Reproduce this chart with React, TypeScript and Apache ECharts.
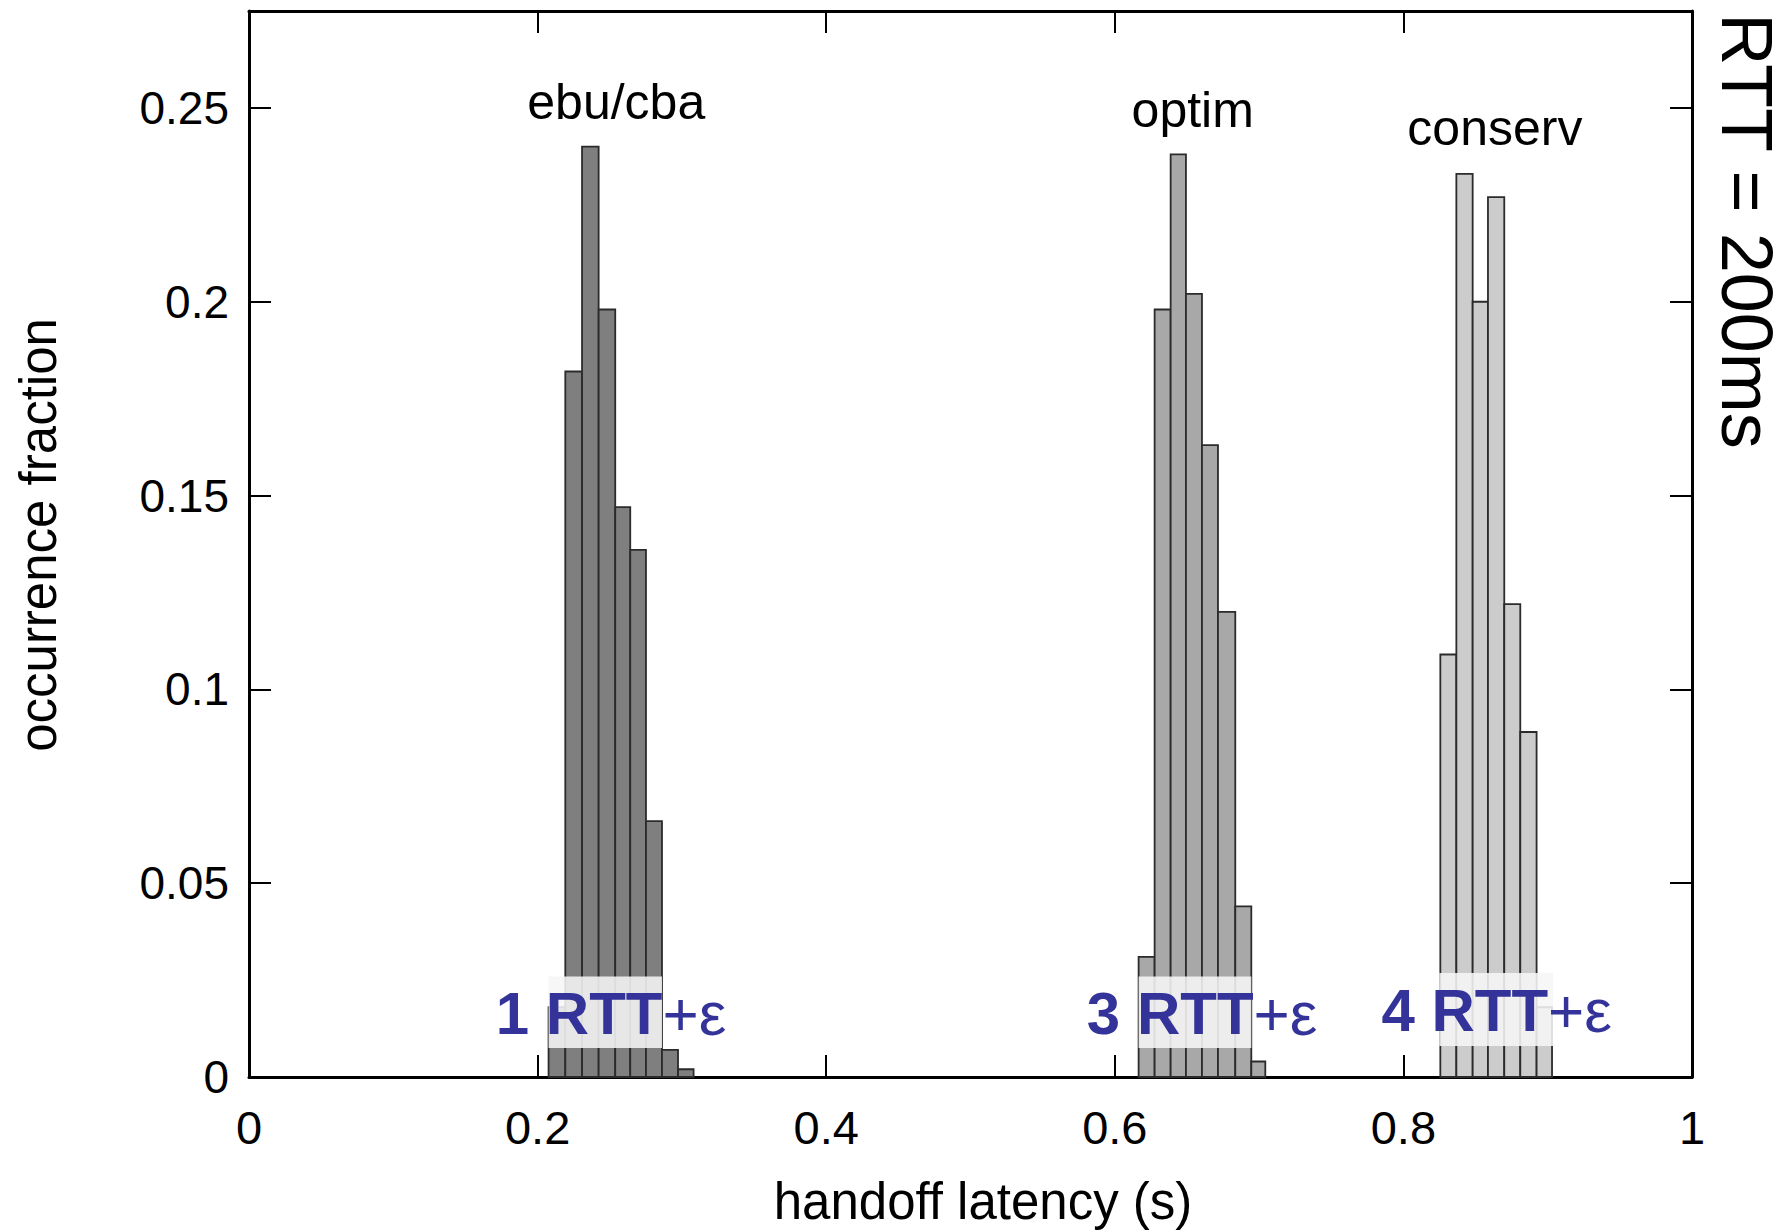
import React, { useEffect, useRef } from 'react';
import * as echarts from 'echarts';

const W = 1789;
const H = 1232;
const FONT = '"Liberation Sans", Arial, Helvetica, sans-serif';

// histogram bin edges (s) and occurrence fractions
const ebuEdges = [0.2076, 0.2192, 0.2308, 0.2423, 0.2538, 0.2642, 0.2751, 0.2862, 0.2973, 0.3081];
const ebuFrac = [0.018, 0.182, 0.240, 0.198, 0.147, 0.136, 0.066, 0.007, 0.002];

const optimEdges = [0.6165, 0.6276, 0.6387, 0.6493, 0.6604, 0.6715, 0.6835, 0.6946, 0.7043];
const optimFrac = [0.031, 0.198, 0.238, 0.202, 0.163, 0.120, 0.044, 0.004];

const conservEdges = [0.8256, 0.8367, 0.8480, 0.8586, 0.8699, 0.8810, 0.8923, 0.9030];
const conservFrac = [0.109, 0.233, 0.200, 0.227, 0.122, 0.089, 0.018];

// group name labels: [x, y, text]
const groupLabels: [number, number, string][] = [
  [0.2545, 0.2516, 'ebu/cba'],
  [0.6540, 0.2495, 'optim'],
  [0.8634, 0.2448, 'conserv'],
];

// RTT annotations: [x left, y middle, count]
const rttLabels: [number, number, string][] = [
  [0.1707, 0.0163, '1'],
  [0.5803, 0.0163, '3'],
  [0.7844, 0.0171, '4'],
];

// highlight bands behind "RTT": [x0, x1, y0, y1]
const rttBands: [number, number, number, number][] = [
  [0.2076, 0.2862, 0.0075, 0.0259],
  [0.6165, 0.6946, 0.0075, 0.0259],
  [0.8249, 0.9037, 0.0080, 0.0268],
];

const toBins = (edges: number[], frac: number[]) => frac.map((f, i) => [edges[i], edges[i + 1], f]);

const histSeries = (name: string, edges: number[], frac: number[], fill: string) => ({
  type: 'custom',
  name,
  xAxisIndex: 0,
  yAxisIndex: 0,
  data: toBins(edges, frac),
  encode: { x: [0, 1], y: 2 },
  z: 2,
  renderItem: (_p: any, api: any) => {
    const tl = api.coord([api.value(0), api.value(2)]);
    const br = api.coord([api.value(1), 0]);
    return {
      type: 'rect',
      shape: { x: tl[0], y: tl[1], width: br[0] - tl[0], height: br[1] - tl[1] },
      style: { fill, stroke: '#2b2b2b', lineWidth: 1.8 },
    };
  },
});

const axisCommon = {
  splitLine: { show: false },
  axisLine: { show: true, onZero: false, lineStyle: { color: '#000', width: 3 } },
  axisTick: { show: true, inside: true, length: 22, lineStyle: { color: '#000', width: 2 } },
};

export default function App() {
  const ref = useRef<HTMLDivElement>(null);
  useEffect(() => {
    const chart = echarts.init(ref.current!, null, { renderer: 'svg', width: W, height: H });
    chart.setOption({
      animation: false,
      backgroundColor: '#fff',
      grid: { left: 249, right: 97, top: 11, bottom: 155, containLabel: false },
      xAxis: [
        {
          type: 'value', min: 0, max: 1, interval: 0.2, position: 'bottom',
          ...axisCommon,
          axisLabel: { color: '#000', fontFamily: FONT, fontSize: 47, margin: 27 },
        },
        {
          type: 'value', min: 0, max: 1, interval: 0.2, position: 'top',
          ...axisCommon,
          axisLabel: { show: false },
        },
      ],
      yAxis: [
        {
          type: 'value', min: 0, max: 0.275, interval: 0.05, position: 'left',
          ...axisCommon,
          axisLabel: { color: '#000', fontFamily: FONT, fontSize: 46, margin: 20, showMaxLabel: false },
        },
        {
          type: 'value', min: 0, max: 0.275, interval: 0.05, position: 'right',
          ...axisCommon,
          axisLabel: { show: false },
        },
      ],
      series: [
        histSeries('ebu/cba', ebuEdges, ebuFrac, '#7f7f7f'),
        histSeries('optim', optimEdges, optimFrac, '#a8a8a8'),
        histSeries('conserv', conservEdges, conservFrac, '#cccccc'),
        {
          type: 'custom',
          name: 'bands',
          data: rttBands,
          encode: { x: [0, 1], y: [2, 3] },
          z: 3,
          silent: true,
          renderItem: (_p: any, api: any) => {
            const tl = api.coord([api.value(0), api.value(3)]);
            const br = api.coord([api.value(1), api.value(2)]);
            return {
              type: 'rect',
              shape: { x: tl[0], y: tl[1], width: br[0] - tl[0], height: br[1] - tl[1] },
              style: { fill: 'rgba(246,246,246,0.88)' },
            };
          },
        },
        {
          type: 'scatter',
          name: 'groups',
          data: groupLabels,
          symbolSize: 1,
          itemStyle: { color: 'rgba(0,0,0,0)', opacity: 1 },
          z: 4,
          silent: true,
          label: {
            show: true,
            position: 'inside',
            align: 'center',
            verticalAlign: 'middle',
            formatter: (p: any) => p.data[2],
            color: '#000',
            fontFamily: FONT,
            fontSize: 50,
          },
        },
        {
          type: 'scatter',
          name: 'rtt',
          data: rttLabels,
          symbolSize: 1,
          itemStyle: { color: 'rgba(0,0,0,0)', opacity: 1 },
          z: 5,
          silent: true,
          label: {
            show: true,
            position: 'right',
            distance: 0,
            formatter: (p: any) => `{b|${p.data[2]} RTT}{n|+ε}`,
            rich: {
              b: { color: '#333399', fontFamily: FONT, fontSize: 60, fontWeight: 'bold' },
              n: { color: '#333399', fontFamily: FONT, fontSize: 62, fontWeight: 'normal' },
            },
          },
        },
      ],
      graphic: [
        {
          type: 'text', x: 38, y: 535, rotation: Math.PI / 2,
          style: { text: 'occurrence fraction', font: `51px ${FONT}`, fill: '#000', align: 'center', verticalAlign: 'middle' },
        },
        {
          type: 'text', x: 983, y: 1201,
          style: { text: 'handoff latency (s)', font: `51px ${FONT}`, fill: '#000', align: 'center', verticalAlign: 'middle' },
        },
        {
          type: 'text', x: 1747, y: 231, rotation: -Math.PI / 2,
          style: { text: 'RTT = 200ms', font: `72px ${FONT}`, fill: '#000', align: 'center', verticalAlign: 'middle' },
        },
      ],
    });
    return () => chart.dispose();
  }, []);
  return (
    <div
      ref={ref}
      style={{ position: 'fixed', left: 0, top: 0, width: W, height: H, background: '#fff' }}
    />
  );
}
